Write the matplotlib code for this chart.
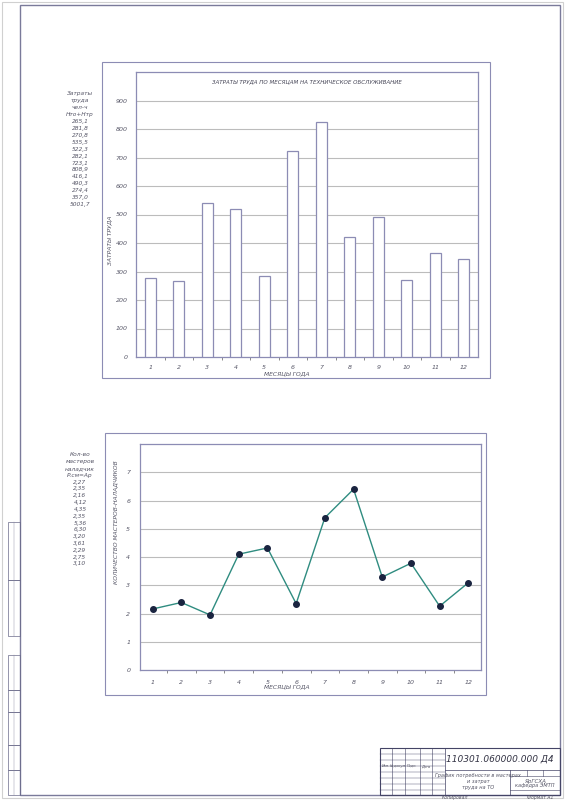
import matplotlib
matplotlib.use("Agg")
import matplotlib.pyplot as plt
from matplotlib.patches import Rectangle
from matplotlib.lines import Line2D

# --- data ---
months = list(range(1, 13))
labor_hours = [278, 267, 540, 521, 284, 723, 825, 420, 492, 270, 365, 345]
masters = [2.16, 2.39, 1.95, 4.10, 4.32, 2.35, 5.39, 6.40, 3.29, 3.78, 2.26, 3.09]

labor_list = ["Затраты", "труда", "чел-ч", "Нто+Нтр",
              "265,1", "281,8", "270,8", "535,5", "522,3", "282,1", "723,1",
              "808,9", "416,1", "490,3", "274,4", "357,0", "5001,7"]
masters_list = ["Кол-во", "мастеров", "наладчик", "Р.см=Ар",
                "2,27", "2,35", "2,16", "4,12", "4,35", "2,35", "5,36",
                "6,30", "3,20", "3,61", "2,29", "2,75", "3,10"]

W, H = 565, 800
LINE = "#8c8cb4"
GRID = "#bcbcbc"
TXT = "#555566"

fig = plt.figure(figsize=(W / 100, H / 100), dpi=100)
fig.patch.set_facecolor("white")


def rect_px(x0, y0, x1, y1):
    # pixel box (top-left origin) -> figure fraction [l, b, w, h]
    return [x0 / W, 1 - y1 / H, (x1 - x0) / W, (y1 - y0) / H]


def box(x0, y0, x1, y1, color=LINE, lw=0.8):
    l, b, w, h = rect_px(x0, y0, x1, y1)
    fig.add_artist(Rectangle((l, b), w, h, transform=fig.transFigure,
                             fill=False, edgecolor=color, linewidth=lw))


def hline(y, x0, x1, color="#444466", lw=0.5):
    fig.add_artist(Line2D([x0 / W, x1 / W], [1 - y / H, 1 - y / H],
                          transform=fig.transFigure, color=color, linewidth=lw))


def vline(x, y0, y1, color="#444466", lw=0.5):
    fig.add_artist(Line2D([x / W, x / W], [1 - y0 / H, 1 - y1 / H],
                          transform=fig.transFigure, color=color, linewidth=lw))


def ftext(x, y, s, size=4.5, **kw):
    kw.setdefault("ha", "center")
    kw.setdefault("va", "center")
    kw.setdefault("color", TXT)
    fig.text(x / W, 1 - y / H, s, fontsize=size, style="italic", **kw)


# sheet frame
box(2, 2, 563, 798, color="#d0d0d0", lw=0.8)
box(20, 5, 560, 795, color="#7a7a9a", lw=1.0)

# left margin stamps
for y0, y1 in [(522, 580), (580, 636), (655, 690), (690, 712), (712, 745), (745, 770), (770, 795)]:
    box(8, y0, 20, y1, color="#6a6a8a", lw=0.5)
vline(14, 522, 636, color="#8a8aa0", lw=0.3)
vline(14, 655, 795, color="#8a8aa0", lw=0.3)

# ---------------- top chart: labour per month ----------------
box(102, 62, 490, 378)
ax1 = fig.add_axes(rect_px(136, 72, 478, 357))
ax1.set_axisbelow(True)
ax1.bar(months, labor_hours, width=0.375, color="white", edgecolor=LINE,
        linewidth=0.9, zorder=3)
ax1.set_xlim(0.5, 12.5)
ax1.set_ylim(0, 1000)
ax1.set_yticks(range(0, 1000, 100))
ax1.set_xticks(months)
ax1.set_xticks([m + 0.5 for m in months[:-1]], minor=True)
ax1.yaxis.grid(True, color=GRID, linewidth=0.8)
ax1.tick_params(axis="both", which="major", length=0, labelsize=4.5,
                labelcolor=TXT, pad=6)
ax1.tick_params(axis="x", which="minor", length=2, color="#777")
for lab in ax1.get_xticklabels() + ax1.get_yticklabels():
    lab.set_style("italic")
for s in ax1.spines.values():
    s.set_color(LINE)
    s.set_linewidth(0.9)
ax1.text(0.5, 0.975, "ЗАТРАТЫ ТРУДА ПО МЕСЯЦАМ НА ТЕХНИЧЕСКОЕ ОБСЛУЖИВАНИЕ",
         transform=ax1.transAxes, ha="center", va="top", fontsize=4,
         style="italic", color="#444455")
ftext(287, 374, "МЕСЯЦЫ ГОДА", size=4.3)
ftext(110, 240, "ЗАТРАТЫ ТРУДА", size=4.3, rotation=90)

for i, s in enumerate(labor_list):
    ftext(80, 94 + i * 6.9, s, size=4.2)

# ---------------- bottom chart: number of masters ----------------
box(105, 433, 486, 695)
ax2 = fig.add_axes(rect_px(140, 444, 481, 670))
ax2.set_axisbelow(True)
ax2.plot(months, masters, color="#2f8c80", linewidth=1.0, marker="o",
         markersize=4, markerfacecolor="#1a2440", markeredgecolor="#1a2440",
         zorder=3)
ax2.set_xlim(0.56, 12.44)
ax2.set_ylim(0, 8)
ax2.set_yticks(range(0, 8))
ax2.set_xticks(months)
ax2.set_xticks([m + 0.5 for m in months[:-1]], minor=True)
ax2.yaxis.grid(True, color=GRID, linewidth=0.8)
ax2.tick_params(axis="both", which="major", length=0, labelsize=4.5,
                labelcolor=TXT, pad=7)
ax2.tick_params(axis="x", which="minor", length=2, color="#777")
for lab in ax2.get_xticklabels() + ax2.get_yticklabels():
    lab.set_style("italic")
for s in ax2.spines.values():
    s.set_color(LINE)
    s.set_linewidth(0.9)
ftext(287, 687, "МЕСЯЦЫ ГОДА", size=4.3)
ftext(116, 522, "КОЛИЧЕСТВО МАСТЕРОВ-НАЛАДЧИКОВ", size=4.3, rotation=90)

for i, s in enumerate(masters_list):
    ftext(80, 455 + i * 6.8, s, size=4.2)

# ---------------- title block ----------------
box(380, 748, 560, 795, color="#444466", lw=0.8)
vline(445, 748, 795)
for x in [392, 405, 420, 432]:
    vline(x, 748, 795, lw=0.4)
for y in [754, 760, 766, 772, 778, 784, 790]:
    hline(y, 380, 445, lw=0.3)
hline(770, 445, 560)
vline(510, 770, 795)
hline(776, 510, 560, lw=0.4)
hline(790, 510, 560, lw=0.4)
for x in [527, 543]:
    vline(x, 770, 776, lw=0.4)
ftext(500, 759, "110301.060000.000 Д4", size=6.5, color="#333344")
ftext(478, 775, "График потребности в мастерах", size=3.6)
ftext(478, 781, "и затрат", size=3.6)
ftext(478, 787, "труда на ТО", size=3.6)
ftext(535, 781, "ЯрГСХА", size=4)
ftext(535, 786, "кафедра ЭМТП", size=3.6)
ftext(455, 797, "Копировал", size=3.3)
ftext(540, 797, "Формат А1", size=3.3)
ftext(386, 766, "Изм.", size=2.5)
ftext(398, 766, "№ докум.", size=2.5)
ftext(412, 766, "Подп.", size=2.5)
ftext(426, 766, "Дата", size=2.5)

fig.savefig("out.png", dpi=100)
